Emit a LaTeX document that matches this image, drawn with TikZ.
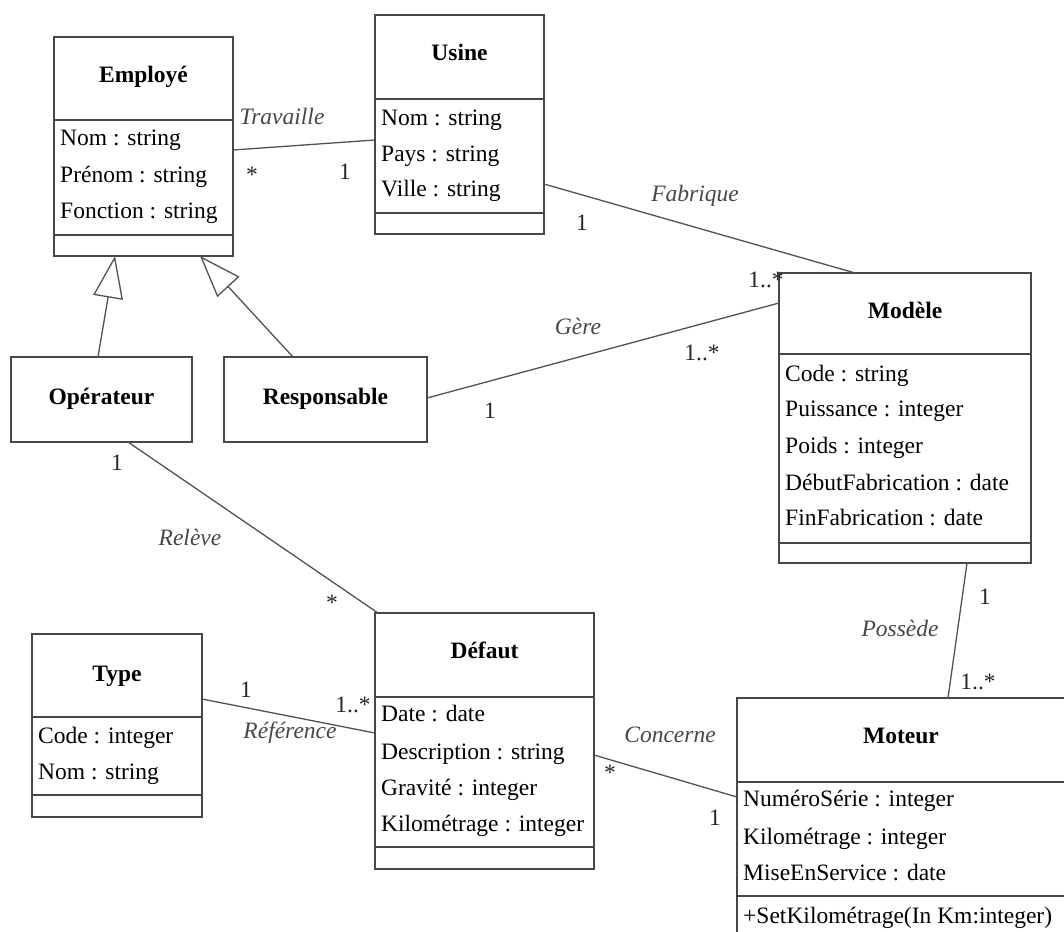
\documentclass[tikz,border=0pt]{standalone}
\usepackage{fontspec}
\setmainfont{Liberation Serif}
\usetikzlibrary{arrows.meta}
\begin{document}
\begin{tikzpicture}[x=1pt,y=-1pt,
  every node/.style={font=\fontsize{23.5}{28}\selectfont},
  cls/.style={draw=black!72, line width=1.6pt, inner sep=0pt, outer sep=0pt, anchor=north west},
  sepline/.style={draw=black!72, line width=1.6pt},
  ttl/.style={anchor=base, inner sep=0pt, font=\fontsize{23.5}{28}\selectfont\bfseries},
  attr/.style={anchor=base west, inner sep=0pt, xshift=6pt},
  assoc/.style={draw=black!68, line width=1.3pt},
  gen/.style={draw=black!68, line width=1.3pt, -{Triangle[open, length=42pt, width=30pt, line width=1.3pt]}},
  aname/.style={inner sep=0pt, text=black!72, font=\fontsize{23.5}{28}\selectfont\itshape},
  mult/.style={inner sep=0pt, text=black!85}
]
\useasboundingbox (0,0) rectangle (1064,931);
\clip (0,0) rectangle (1064,931);

% ---------- Employe ----------
\node[cls, minimum width=179pt, minimum height=219pt] (emp) at (54,37) {};
\draw[sepline] (emp.west |- 0,120) -- (emp.east |- 0,120);
\draw[sepline] (emp.west |- 0,235) -- (emp.east |- 0,235);
\node[ttl] (empT) at (emp.north |- 0,83) {Employé};
\node[attr] (empA1) at (emp.west |- 0,145) {Nom : string};
\node[attr] (empA2) at (emp.west |- 0,182) {Prénom : string};
\node[attr] (empA3) at (emp.west |- 0,218) {Fonction : string};

% ---------- Usine ----------
\node[cls, minimum width=169pt, minimum height=219pt] (usi) at (375,15) {};
\draw[sepline] (usi.west |- 0,99) -- (usi.east |- 0,99);
\draw[sepline] (usi.west |- 0,213) -- (usi.east |- 0,213);
\node[ttl] (usiT) at (usi.north |- 0,61) {Usine};
\node[attr] (usiA1) at (usi.west |- 0,125) {Nom : string};
\node[attr] (usiA2) at (usi.west |- 0,161) {Pays : string};
\node[attr] (usiA3) at (usi.west |- 0,196) {Ville : string};

% ---------- Modele ----------
\node[cls, minimum width=252pt, minimum height=290pt] (mod) at (779,273) {};
\draw[sepline] (mod.west |- 0,354) -- (mod.east |- 0,354);
\draw[sepline] (mod.west |- 0,543) -- (mod.east |- 0,543);
\node[ttl] (modT) at (mod.north |- 0,318) {Modèle};
\node[attr] (modA1) at (mod.west |- 0,381) {Code : string};
\node[attr] (modA2) at (mod.west |- 0,416) {Puissance : integer};
\node[attr] (modA3) at (mod.west |- 0,453) {Poids : integer};
\node[attr] (modA4) at (mod.west |- 0,490) {DébutFabrication : date};
\node[attr] (modA5) at (mod.west |- 0,525) {FinFabrication : date};

% ---------- Operateur / Responsable ----------
\node[cls, minimum width=181pt, minimum height=85pt] (ope) at (11,357) {};
\node[ttl] (opeT) at (ope.north |- 0,404) {Opérateur};
\node[cls, minimum width=203pt, minimum height=85pt] (res) at (224,357) {};
\node[ttl] (resT) at (res.north |- 0,404) {Responsable};

% ---------- Defaut ----------
\node[cls, minimum width=219pt, minimum height=256pt] (def) at (375,613) {};
\draw[sepline] (def.west |- 0,697) -- (def.east |- 0,697);
\draw[sepline] (def.west |- 0,847) -- (def.east |- 0,847);
\node[ttl] (defT) at (def.north |- 0,658) {Défaut};
\node[attr] (defA1) at (def.west |- 0,721) {Date : date};
\node[attr] (defA2) at (def.west |- 0,759) {Description : string};
\node[attr] (defA3) at (def.west |- 0,795) {Gravité : integer};
\node[attr] (defA4) at (def.west |- 0,831) {Kilométrage : integer};

% ---------- Type ----------
\node[cls, minimum width=170pt, minimum height=183pt] (typ) at (32,634) {};
\draw[sepline] (typ.west |- 0,717) -- (typ.east |- 0,717);
\draw[sepline] (typ.west |- 0,795) -- (typ.east |- 0,795);
\node[ttl] (typT) at (typ.north |- 0,681) {Type};
\node[attr] (typA1) at (typ.west |- 0,743) {Code : integer};
\node[attr] (typA2) at (typ.west |- 0,779) {Nom : string};

% ---------- Moteur ----------
\node[cls, minimum width=340pt, minimum height=250pt] (mot) at (737,698) {};
\draw[sepline] (mot.west |- 0,782) -- (mot.east |- 0,782);
\draw[sepline] (mot.west |- 0,896) -- (mot.east |- 0,896);
\node[ttl] (motT) at (mot.west |- 0,743) [xshift=164pt] {Moteur};
\node[attr] (motA1) at (mot.west |- 0,806) {NuméroSérie : integer};
\node[attr] (motA2) at (mot.west |- 0,844) {Kilométrage : integer};
\node[attr] (motA3) at (mot.west |- 0,880) {MiseEnService : date};
\node[attr] (motO1) at (mot.west |- 0,923) {+SetKilométrage(In Km:integer)};

% ---------- Generalisations ----------
\draw[gen] (ope.north -| 98,0) -- (emp.south -| 115,0);
\draw[gen] (res.north -| 293,0) -- (emp.south -| 200,0);

% ---------- Associations ----------
\draw[assoc] (emp.east |- 0,150) -- (usi.west |- 0,140);
\node[aname] (lTrav) at (282,116) {Travaille};
\node[mult] (mTrav1) at (252,175) {*};
\node[mult] (mTrav2) at (345,172) {1};

\draw[assoc] (usi.east |- 0,184) -- (mod.north -| 855,0);
\node[aname] (lFab) at (695,196) {Fabrique};
\node[mult] (mFab1) at (582,223) {1};
\node[mult] (mFab2) at (766,280) {1..*};

\draw[assoc] (res.east |- 0,398) -- (mod.west |- 0,303);
\node[aname] (lGere) at (578,326) {Gère};
\node[mult] (mGere1) at (490,411) {1};
\node[mult] (mGere2) at (702,353) {1..*};

\draw[assoc] (ope.south -| 128,0) -- (def.north -| 378,0);
\node[aname] (lRel) at (190,537) {Relève};
\node[mult] (mRel1) at (117,463) {1};
\node[mult] (mRel2) at (332,603) {*};

\draw[assoc] (typ.east |- 0,699) -- (def.west |- 0,733);
\node[aname] (lRef) at (290,733) {Référence};
\node[mult] (mRef1) at (246,690) {1};
\node[mult] (mRef2) at (353,705) {1..*};

\draw[assoc] (def.east |- 0,755) -- (mot.west |- 0,797);
\node[aname] (lConc) at (670,735) {Concerne};
\node[mult] (mConc1) at (610,773) {*};
\node[mult] (mConc2) at (715,818) {1};

\draw[assoc] (mod.south -| 967,0) -- (mot.north -| 948,0);
\node[aname] (lPoss) at (900,628) {Possède};
\node[mult] (mPoss1) at (985,597) {1};
\node[mult] (mPoss2) at (978,682) {1..*};
\end{tikzpicture}
\end{document}
